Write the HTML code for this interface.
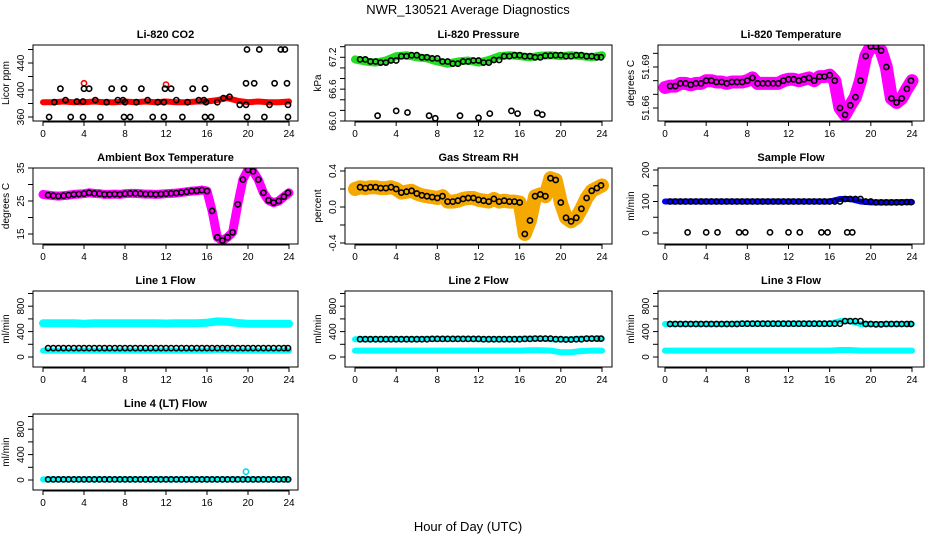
<!DOCTYPE html>
<html><head><meta charset="utf-8">
<style>
html,body{margin:0;padding:0;background:#fff;}
svg{display:block;font-family:"Liberation Sans",sans-serif;}
</style></head>
<body>
<svg id="chart" width="936" height="540" viewBox="0 0 936 540" xmlns="http://www.w3.org/2000/svg">
<rect x="0" y="0" width="936" height="540" fill="#fff"/>
<text x="468" y="14" font-size="13" text-anchor="middle">NWR_130521  Average Diagnostics</text>
<text x="468" y="531" font-size="13" text-anchor="middle">Hour of Day (UTC)</text>
</svg>
<script>
// ---- data ----
const xTicks = [0,4,8,12,16,20,24];

const co2Band = [382,382,383,382,382,383,382,382,383,382,383,382,383,382,382,383,383,385,388,384,382,383,382,382,383];
const co2Hours = [0.6,1.1,1.7,2.2,2.7,3.3,3.9,3.9,4.0,4.5,5.1,5.6,6.2,6.7,7.3,7.8,7.9,7.9,8.0,8.5,9.1,9.6,10.2,10.7,11.2,11.8,11.9,11.8,12.5,13.0,13.6,14.1,14.6,15.2,15.7,15.8,15.8,15.9,16.4,17.0,17.6,18.2,19.2,19.8,19.8,19.9,19.9,20.6,21.1,21.6,22.1,22.6,23.2,23.6,23.8,23.9,23.9];
const co2Values = [360,382,402,385,360,383,360,383,402,402,385,360,382,402,385,385,402,360,382,360,382,402,385,360,382,382,402,360,402,385,360,382,402,385,385,402,360,382,360,382,388,390,378,378,410,360,460,410,460,360,378,410,460,460,410,378,360];
const co2RedHours = [4.0,12.0];
const co2RedValues = [410,408];

const presBand = [67.16,67.12,67.10,67.14,67.22,67.24,67.20,67.18,67.12,67.08,67.12,67.14,67.10,67.15,67.22,67.24,67.22,67.20,67.23,67.24,67.22,67.24,67.22,67.20,67.24];
const presLowHours = [2.2,4.0,5.1,7.2,7.8,10.2,12.0,13.1,15.2,15.8,17.7,18.2];
const presLowValues = [66.10,66.19,66.16,66.10,66.05,66.10,66.06,66.14,66.19,66.14,66.15,66.12];

const liTemp = [51.675,51.676,51.676,51.678,51.678,51.677,51.678,51.678,51.680,51.680,51.679,51.679,51.678,51.679,51.679,51.679,51.680,51.682,51.678,51.678,51.678,51.678,51.678,51.680,51.681,51.681,51.680,51.681,51.682,51.680,51.683,51.683,51.684,51.680,51.660,51.655,51.662,51.668,51.680,51.698,51.705,51.705,51.702,51.690,51.667,51.664,51.667,51.674,51.680];

const ambTemp = [27.0,26.8,26.6,26.5,26.6,26.8,27.0,27.1,27.2,27.5,27.3,27.2,27.0,27.0,27.1,27.0,27.2,27.3,27.3,27.2,27.1,27.1,27.0,27.1,27.2,27.3,27.4,27.6,27.8,28.0,28.1,28.3,28.0,22.0,14.0,13.0,14.0,15.5,24.0,31.5,34.5,34.0,31.5,27.5,25.2,24.5,25.0,26.3,27.5];

const gasRH = [0.20,0.22,0.21,0.22,0.22,0.21,0.21,0.22,0.20,0.16,0.17,0.18,0.15,0.13,0.12,0.11,0.10,0.12,0.06,0.06,0.07,0.09,0.10,0.10,0.08,0.07,0.06,0.09,0.06,0.07,0.06,0.06,0.05,-0.30,-0.15,0.12,0.14,0.12,0.32,0.30,0.05,-0.12,-0.16,-0.12,-0.02,0.10,0.18,0.21,0.24];

const sampleFlow = [100,100,100,100,100,100,100,100,100,100,100,100,100,100,100,100,100,108,108,100,97,97,97,98,98];
const sampleZeroHours = [2.2,4.0,5.1,7.2,7.8,10.2,12.0,13.1,15.2,15.8,17.7,18.2];
const sampleZeroValues = [2,2,2,2,2,2,2,2,2,2,2,2];

const line1Top = [530,530,530,530,525,530,530,530,530,530,530,530,528,530,530,530,540,560,555,535,525,525,525,525,525];
const line1Low = [100,100,100,100,100,100,100,100,100,100,100,100,100,100,100,100,100,110,110,100,100,100,100,100,100];
const line1Black = [140,140,140,140,140,140,140,140,140,140,140,140,140,140,140,140,140,140,140,140,140,140,140,140,140];

const line2Cyan = [100,100,100,100,100,100,100,100,100,100,100,100,100,100,100,100,100,105,105,100,75,75,95,100,100];
const line2Black = [280,280,280,280,280,280,280,285,285,285,285,285,280,280,280,280,285,290,290,280,275,280,290,290,290];

const line3Cyan = [100,100,100,100,100,100,100,100,100,100,100,100,100,100,100,100,100,110,110,100,100,100,100,100,100];
const line3Black = [520,520,520,520,520,520,520,525,525,525,525,525,525,525,525,525,525,565,565,520,515,520,520,520,520];

const line4Cyan = [10,10,10,10,10,10,10,10,10,10,10,10,10,10,10,10,10,10,10,10,10,10,10,10,10];
const line4Black = [10,10,10,10,10,10,10,10,10,10,10,10,10,10,10,10,10,10,10,10,10,10,10,10,10];
const line4SpikeHours = [19.8];
const line4SpikeValues = [130];

// ---- layout ----
const NS = "http://www.w3.org/2000/svg";
const svg = document.getElementById('chart');
const cols = [{bx:33,bw:265,x0:43,x24:289},{bx:345,bw:267,x0:355,x24:602},{bx:658,bw:266,x0:665,x24:912}];
const rowTops = [45,168,291,414];
const BH = 76;

function mk(tag, attrs, parent){
  const e = document.createElementNS(NS, tag);
  for (const k in attrs) e.setAttribute(k, attrs[k]);
  (parent||svg).appendChild(e);
  return e;
}

function panel(ci, ri, name, title, ytitle, v1, y1, v2, y2, ticks, labels){
  const c = cols[ci], top = rowTops[ri];
  const g = mk('g', {});
  
  
  const sx = h => c.x0 + (c.x24 - c.x0) * h / 24;
  const sy = v => y1 + (v - v1) * (y2 - y1) / (v2 - v1);
  const cid = 'clip-' + name;
  const cp = mk('clipPath', {id: cid}, g);
  mk('rect', {x: c.bx, y: top, width: c.bw, height: BH}, cp);
  const plot = mk('g', {'clip-path': 'url(#' + cid + ')'}, g);
  
  
  const t = mk('text', {x: c.bx + c.bw/2, y: top - 7, 'font-size': 11, 'font-weight': 'bold', 'text-anchor': 'middle'}, g);
  t.textContent = title;
  
  
  const yt = mk('text', {x: 0, y: 0, 'font-size': 10, 'text-anchor': 'middle', transform: 'translate(' + (c.bx - 24) + ',' + (top + BH/2) + ') rotate(-90)'}, g);
  yt.textContent = ytitle;
  
  
  ticks.forEach(v => {
    const y = sy(v);
    const tk = mk('line', {x1: c.bx - 5, x2: c.bx, y1: y, y2: y, stroke: '#000', 'stroke-width': 1}, g);
    
    
  });
  labels.forEach(l => {
    const y = sy(l.v);
    const tx = mk('text', {x: 0, y: 0, 'font-size': 10, 'text-anchor': 'middle', transform: 'translate(' + (c.bx - 9) + ',' + y + ') rotate(-90)'}, g);
    tx.textContent = l.s;
    
    
  });
  const bottom = top + BH;
  const ax = mk('line', {x1: sx(0), x2: sx(24), y1: bottom + 1, y2: bottom + 1, stroke: '#000', 'stroke-width': 1}, g);
  
  
  xTicks.forEach(h => {
    const x = sx(h);
    const tk = mk('line', {x1: x, x2: x, y1: bottom, y2: bottom + 5, stroke: '#000', 'stroke-width': 1}, g);
    
    
    const tx = mk('text', {x: x, y: bottom + 16, 'font-size': 10, 'text-anchor': 'middle'}, g);
    tx.textContent = String(h);
    
    
  });
  const bx = mk('rect', {x: c.bx, y: top, width: c.bw, height: BH, fill: 'none', stroke: '#000', 'stroke-width': 1}, g);
  
  
  return {sx, sy, plot};
}

function band(p, arr, step, color, width, name){
  const pts = arr.map((v,i) => p.sx(i*step).toFixed(1) + ',' + p.sy(v).toFixed(1)).join(' ');
  const pl = mk('polyline', {points: pts, fill: 'none', stroke: color, 'stroke-width': width, 'stroke-linejoin': 'round', 'stroke-linecap': 'round'}, p.plot);
  
  
}
function circ(p, h, v, color, name){
  const c = mk('circle', {cx: p.sx(h).toFixed(1), cy: p.sy(v).toFixed(1), r: 2.6, fill: 'none', stroke: color, 'stroke-width': 1.6}, p.plot);
  
  
}
function circlesHalf(p, arr, color, name){ arr.forEach((v,i) => { if (i>0) circ(p, Math.min(i*0.5, 23.9), v, color, name); }); }
function circlesHourly(p, arr, color, name){ arr.forEach((v,i) => { if (i<24){ circ(p, i+0.5, v, color, name); circ(p, i+1 > 23.9 ? 23.9 : i+1, v, color, name);} }); }
function circlesXY(p, hs, vs, color, name){ hs.forEach((h,i) => circ(p, h, vs[i], color, name)); }
const L = (v,s) => ({v, s});

let p = panel(0,0,'co2','Li-820 CO2','Licor ppm',360,117,440,63,[360,380,400,420,440,460],[L(360,'360'),L(400,'400'),L(440,'440')]);
band(p, co2Band, 1, '#ff0000', 6, 'co2-band');
circlesXY(p, co2RedHours, co2RedValues, '#ff0000', 'co2-red-point');
circlesXY(p, co2Hours, co2Values, '#000', 'co2-point');

p = panel(1,0,'pressure','Li-820 Pressure','kPa',66.0,121,67.2,57.3,[66.0,66.2,66.4,66.6,66.8,67.0,67.2,67.4],[L(66.0,'66.0'),L(66.6,'66.6'),L(67.2,'67.2')]);
band(p, presBand, 1, '#22dd22', 8, 'pressure-band');
circlesHourly(p, presBand, '#000', 'pressure-point');
circlesXY(p, presLowHours, presLowValues, '#000', 'pressure-low-point');

p = panel(2,0,'li-temp','Li-820 Temperature','degrees C',51.66,108,51.69,67,[51.66,51.67,51.68,51.69,51.70],[L(51.66,'51.66'),L(51.69,'51.69')]);
band(p, liTemp, 0.5, '#ff00ff', 13, 'li-temp-band');
circlesHalf(p, liTemp, '#000', 'li-temp-point');

p = panel(0,1,'ambient','Ambient Box Temperature','degrees C',15,234,35,168,[15,20,25,30,35],[L(15,'15'),L(25,'25'),L(35,'35')]);
band(p, ambTemp, 0.5, '#ff00ff', 9, 'ambient-band');
circlesHalf(p, ambTemp, '#000', 'ambient-point');

p = panel(1,1,'rh','Gas Stream RH','percent',-0.4,243,0.4,171,[-0.4,-0.2,0,0.2,0.4],[L(-0.4,'-0.4'),L(0,'0.0'),L(0.4,'0.4')]);
band(p, gasRH, 0.5, '#f5a800', 14, 'rh-band');
circlesHalf(p, gasRH, '#000', 'rh-point');

p = panel(2,1,'sample-flow','Sample Flow','ml/min',0,233,200,170,[0,50,100,150,200],[L(0,'0'),L(100,'100'),L(200,'200')]);
band(p, sampleFlow, 1, '#0000ff', 6, 'sample-flow-band');
circlesHourly(p, sampleFlow, '#000', 'sample-flow-point');
circlesXY(p, sampleZeroHours, sampleZeroValues, '#000', 'sample-flow-zero-point');

const flowTicks = [0,200,400,600,800,1000];
const flowLabels = [L(0,'0'),L(400,'400'),L(800,'800')];
p = panel(0,2,'line1','Line 1 Flow','ml/min',0,357,1000,293.5,flowTicks,flowLabels);
band(p, line1Top, 1, '#00ffff', 8, 'line1-top-band');
band(p, line1Low, 1, '#00ffff', 6, 'line1-low-band');
circlesHourly(p, line1Black, '#000', 'line1-point');
p = panel(1,2,'line2','Line 2 Flow','ml/min',0,357,1000,293.5,flowTicks,flowLabels);
band(p, line2Cyan, 1, '#00ffff', 6, 'line2-band');
band(p, line2Black, 1, '#00ffff', 6, 'line2-upper-band');
circlesHourly(p, line2Black, '#000', 'line2-point');
p = panel(2,2,'line3','Line 3 Flow','ml/min',0,357,1000,293.5,flowTicks,flowLabels);
band(p, line3Cyan, 1, '#00ffff', 6, 'line3-band');
band(p, line3Black, 1, '#00ffff', 6, 'line3-upper-band');
circlesHourly(p, line3Black, '#000', 'line3-point');
p = panel(0,3,'line4','Line 4 (LT) Flow','ml/min',0,480,1000,416.5,flowTicks,flowLabels);
band(p, line4Cyan, 1, '#00ffff', 6, 'line4-band');
circlesHourly(p, line4Black, '#000', 'line4-point');
circlesXY(p, line4SpikeHours, line4SpikeValues, '#00dddd', 'line4-spike-point');
</script>
</body></html>
